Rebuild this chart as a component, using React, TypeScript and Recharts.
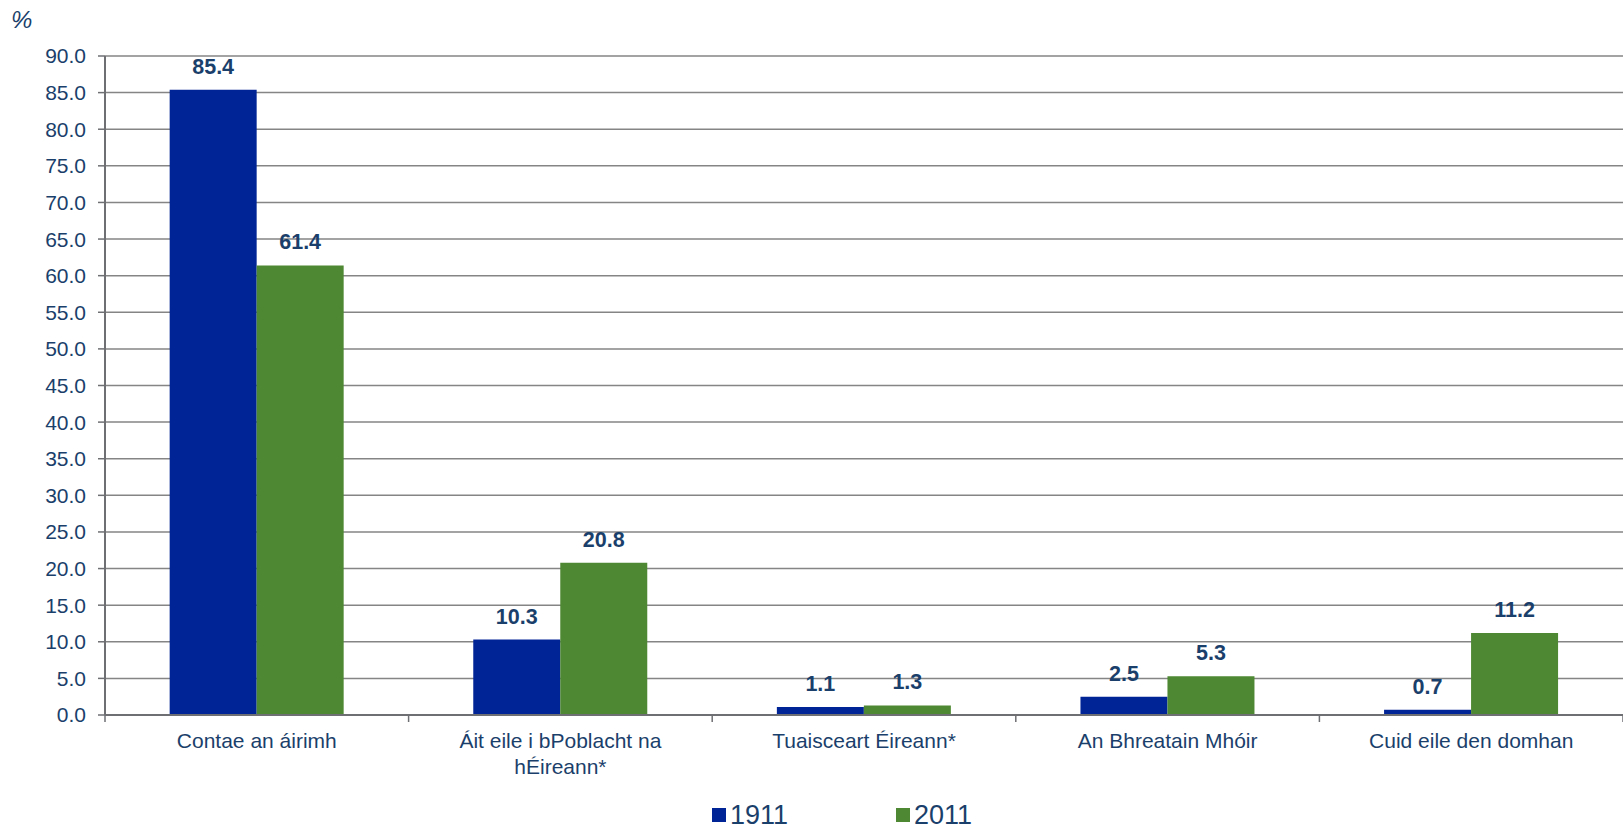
import React from "react";
import { BarChart, CartesianGrid, XAxis, YAxis, Legend, Bar, LabelList } from "recharts";

const categories = [
  "Contae an áirimh",
  "Áit eile i bPoblacht na hÉireann*",
  "Tuaisceart Éireann*",
  "An Bhreatain Mhóir",
  "Cuid eile den domhan",
];
const values1911 = [85.4, 10.3, 1.1, 2.5, 0.7];
const values2011 = [61.4, 20.8, 1.3, 5.3, 11.2];
const yTicks = [0, 5, 10, 15, 20, 25, 30, 35, 40, 45, 50, 55, 60, 65, 70, 75, 80, 85, 90];

const data = categories.map((name, i) => ({ name, y1911: values1911[i], y2011: values2011[i] }));

const TEXT = "#1B3F6B";
const AXIS = "#6E6F73";
const FONT = "'Liberation Sans', Arial, sans-serif";
const W = 1623;
const H = 829;
const Y_AXIS_W = 105;
const BAND = (W - Y_AXIS_W) / categories.length;

// break a label into lines of at most maxChars characters
const wrap = (s: string, maxChars: number) => {
  const lines: string[] = [];
  let cur = "";
  s.split(" ").forEach((w) => {
    const next = cur ? cur + " " + w : w;
    if (next.length > maxChars && cur) {
      lines.push(cur);
      cur = w;
    } else {
      cur = next;
    }
  });
  if (cur) lines.push(cur);
  return lines;
};

// category label + tick marks at the category boundaries
const CategoryTick = (props: any) => {
  const { x, y, payload, index } = props;
  const left = x - BAND / 2;
  const lines = wrap(String(payload.value), 24);
  return (
    <g>
      <line x1={left} x2={left} y1={y} y2={y + 7} stroke={AXIS} strokeWidth={1.5} />
      {index === categories.length - 1 && (
        <line x1={left + BAND} x2={left + BAND} y1={y} y2={y + 7} stroke={AXIS} strokeWidth={1.5} />
      )}
      <text x={x} y={y + 33} textAnchor="middle" fill={TEXT} fontSize={21} fontFamily={FONT}>
        {lines.map((l, i) => (
          <tspan key={i} x={x} dy={i === 0 ? 0 : 26}>
            {l}
          </tspan>
        ))}
      </text>
    </g>
  );
};

const LegendContent = () => (
  <div style={{ position: "relative", height: 54, fontFamily: FONT, color: TEXT, fontSize: 27 }}>
    <div style={{ position: "absolute", left: 712, top: 33, width: 14, height: 14, background: "#002395" }} />
    <div style={{ position: "absolute", left: 730, top: 25, lineHeight: "30px" }}>1911</div>
    <div style={{ position: "absolute", left: 896, top: 33, width: 14, height: 14, background: "#4E8832" }} />
    <div style={{ position: "absolute", left: 914, top: 25, lineHeight: "30px" }}>2011</div>
  </div>
);

export default function App() {
  return (
    <div style={{ position: "absolute", left: 0, top: 0, width: W, height: H, background: "#fff" }}>
      <div
        style={{
          position: "absolute",
          left: 11,
          top: 6,
          fontFamily: FONT,
          fontStyle: "italic",
          fontSize: 24,
          color: TEXT,
        }}
      >
        %
      </div>
      <BarChart
        width={W}
        height={H}
        data={data}
        margin={{ top: 56, right: 0, left: 0, bottom: 0 }}
        barCategoryGap="21.3%"
        barGap={0}
      >
        <CartesianGrid vertical={false} stroke="#858585" strokeWidth={1.5} />
        <XAxis
          dataKey="name"
          height={60}
          interval={0}
          tickLine={false}
          tickSize={0}
          tickMargin={0}
          axisLine={{ stroke: AXIS, strokeWidth: 2 }}
          tick={<CategoryTick />}
        />
        <YAxis
          width={Y_AXIS_W}
          domain={[0, 90]}
          ticks={yTicks}
          interval={0}
          tickFormatter={(v: number) => v.toFixed(1)}
          tickSize={7}
          tickMargin={12}
          axisLine={{ stroke: AXIS, strokeWidth: 2 }}
          tickLine={{ stroke: AXIS, strokeWidth: 1.5 }}
          tick={{ fill: TEXT, fontSize: 21, fontFamily: FONT }}
        />
        <Legend verticalAlign="bottom" content={<LegendContent />} wrapperStyle={{ left: 0, width: W }} />
        <Bar dataKey="y1911" name="1911" fill="#002395" isAnimationActive={false}>
          <LabelList
            dataKey="y1911"
            position="top"
            offset={16}
            formatter={(v: any) => Number(v).toFixed(1)}
            style={{ fill: TEXT, fontSize: 21.5, fontWeight: "bold", fontFamily: FONT }}
          />
        </Bar>
        <Bar dataKey="y2011" name="2011" fill="#4E8832" isAnimationActive={false}>
          <LabelList
            dataKey="y2011"
            position="top"
            offset={16}
            formatter={(v: any) => Number(v).toFixed(1)}
            style={{ fill: TEXT, fontSize: 21.5, fontWeight: "bold", fontFamily: FONT }}
          />
        </Bar>
      </BarChart>
    </div>
  );
}
